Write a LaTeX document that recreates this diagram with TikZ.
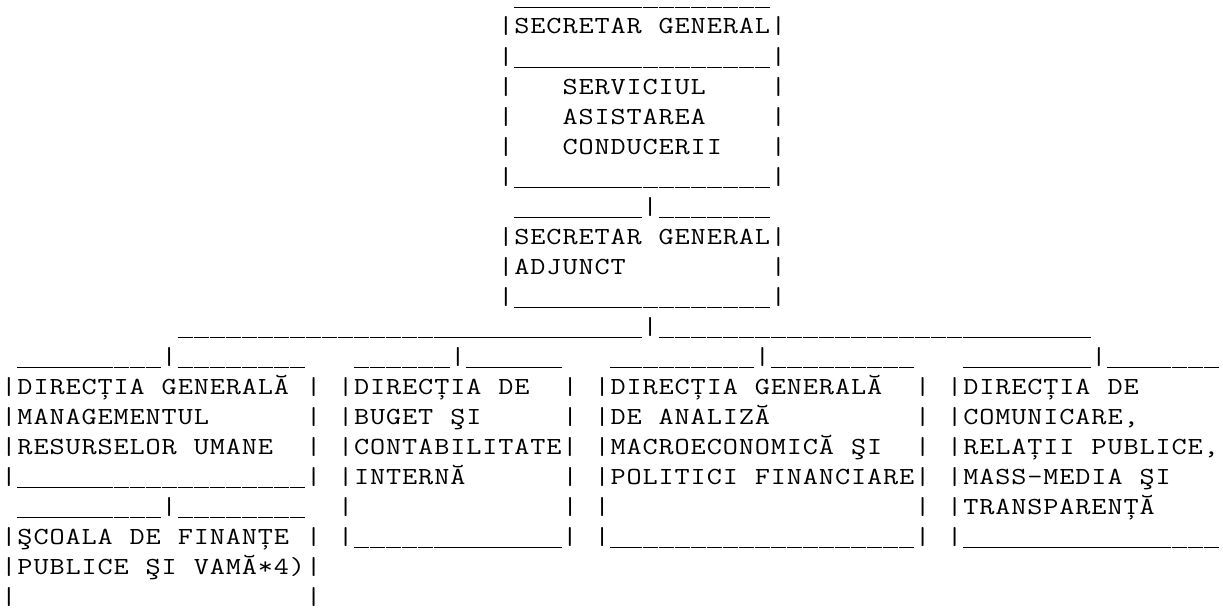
\documentclass[tikz,border=0pt]{standalone}
\usepackage{fontspec}
\ExplSyntaxOn
\cs_new_protected:Npn \cells #1
  {
    \str_map_inline:nn {#1}
      {
        \str_if_eq:nnTF {##1} {_}
          { \makebox[16.03pt][c]{\rule[-4.3pt]{15.4pt}{1.1pt}} }
          { \makebox[16.03pt][c]{\scalebox{1.2}[1]{##1}} }
      }
  }
\ExplSyntaxOff
\tikzset{txt/.style={anchor=base west, inner sep=0pt, outer sep=0pt, text=black,
  font={\ttfamily\fontsize{24.5pt}{30pt}\selectfont}}}
\begin{document}
\begin{tikzpicture}
\useasboundingbox (0pt,0pt) rectangle (1223pt,-610pt);
\begin{scope}[shift={(1pt,-4pt)}, x=16.03pt, y=-30pt]
% Secretar general
\node[txt] (r0) at (32,0) {\cells{________________}};
\node[txt] (sg) at (31,1) {\cells{|SECRETAR GENERAL|}};
\node[txt] (r2) at (31,2) {\cells{|________________|}};
\node[txt] (r3a) at (31,3) {\cells{|}};
\node[txt] (r3b) at (35,3) {\cells{SERVICIUL}};
\node[txt] (r3c) at (48,3) {\cells{|}};
\node[txt] (r4a) at (31,4) {\cells{|}};
\node[txt] (r4b) at (35,4) {\cells{ASISTAREA}};
\node[txt] (r4c) at (48,4) {\cells{|}};
\node[txt] (r5a) at (31,5) {\cells{|}};
\node[txt] (r5b) at (35,5) {\cells{CONDUCERII}};
\node[txt] (r5c) at (48,5) {\cells{|}};
\node[txt] (r6) at (31,6) {\cells{|________________|}};
% Secretar general adjunct
\node[txt] (r7) at (32,7) {\cells{________|_______}};
\node[txt] (sga) at (31,8) {\cells{|SECRETAR GENERAL|}};
\node[txt] (r9a) at (31,9) {\cells{|ADJUNCT}};
\node[txt] (r9b) at (48,9) {\cells{|}};
\node[txt] (r10) at (31,10) {\cells{|________________|}};
% distribution line
\node[txt] (r11) at (11,11) {\cells{_____________________________|___________________________}};
\node[txt] (r12a) at (1,12) {\cells{_________|________}};
\node[txt] (r12b) at (22,12) {\cells{______|______}};
\node[txt] (r12c) at (38,12) {\cells{_________|_________}};
\node[txt] (r12d) at (60,12) {\cells{________|_______}};
% row 13
\node[txt] (r13a) at (0,13) {\cells{|DIRECȚIA GENERALĂ |}};
\node[txt] (r13b) at (21,13) {\cells{|DIRECȚIA DE}};
\node[txt] (r13c) at (35,13) {\cells{|}};
\node[txt] (r13d) at (37,13) {\cells{|DIRECȚIA GENERALĂ}};
\node[txt] (r13e) at (57,13) {\cells{|}};
\node[txt] (r13f) at (59,13) {\cells{|DIRECȚIA DE}};
% row 14
\node[txt] (r14a) at (0,14) {\cells{|MANAGEMENTUL}};
\node[txt] (r14b) at (19,14) {\cells{|}};
\node[txt] (r14c) at (21,14) {\cells{|BUGET ŞI}};
\node[txt] (r14d) at (35,14) {\cells{|}};
\node[txt] (r14e) at (37,14) {\cells{|DE ANALIZĂ}};
\node[txt] (r14f) at (57,14) {\cells{|}};
\node[txt] (r14g) at (59,14) {\cells{|COMUNICARE,}};
% row 15
\node[txt] (r15a) at (0,15) {\cells{|RESURSELOR UMANE}};
\node[txt] (r15b) at (19,15) {\cells{|}};
\node[txt] (r15c) at (21,15) {\cells{|CONTABILITATE|}};
\node[txt] (r15d) at (37,15) {\cells{|MACROECONOMICĂ ŞI}};
\node[txt] (r15e) at (57,15) {\cells{|}};
\node[txt] (r15f) at (59,15) {\cells{|RELAȚII PUBLICE,}};
% row 16
\node[txt] (r16a) at (0,16) {\cells{|__________________|}};
\node[txt] (r16b) at (21,16) {\cells{|INTERNĂ}};
\node[txt] (r16c) at (35,16) {\cells{|}};
\node[txt] (r16d) at (37,16) {\cells{|POLITICI FINANCIARE|}};
\node[txt] (r16e) at (59,16) {\cells{|MASS-MEDIA ŞI}};
% row 17
\node[txt] (r17a) at (1,17) {\cells{_________|________}};
\node[txt] (r17b) at (21,17) {\cells{|}};
\node[txt] (r17c) at (35,17) {\cells{|}};
\node[txt] (r17d) at (37,17) {\cells{|}};
\node[txt] (r17e) at (57,17) {\cells{|}};
\node[txt] (r17f) at (59,17) {\cells{|TRANSPARENȚĂ}};
% row 18
\node[txt] (r18a) at (0,18) {\cells{|ŞCOALA DE FINANȚE |}};
\node[txt] (r18b) at (21,18) {\cells{|_____________|}};
\node[txt] (r18c) at (37,18) {\cells{|___________________|}};
\node[txt] (r18d) at (59,18) {\cells{|________________}};
% rows 19-20
\node[txt] (r19) at (0,19) {\cells{|PUBLICE ŞI VAMĂ*4)|}};
\node[txt] (r20a) at (0,20) {\cells{|}};
\node[txt] (r20b) at (19,20) {\cells{|}};
\end{scope}
\end{tikzpicture}
\end{document}
